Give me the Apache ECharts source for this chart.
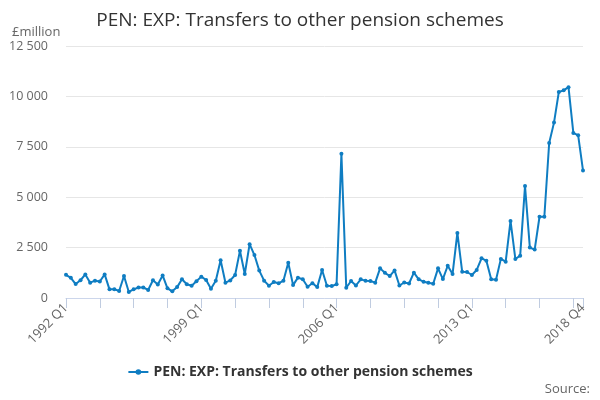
<!DOCTYPE html>
<html>
<head>
<meta charset="utf-8">
<script src="https://cdn.jsdelivr.net/npm/echarts@6/dist/echarts.min.js"></script>
<style>
html,body{margin:0;padding:0;background:#fff;}
#chart{width:600px;height:400px;}
</style>
</head>
<body>
<div id="chart"></div>
<script>
const years = [];
for (let y = 1992; y <= 2018; y++) years.push(y);
const quarters = ['Q1','Q2','Q3','Q4'];
const categories = [];
years.forEach(y => quarters.forEach(q => categories.push(y + ' ' + q)));

const seriesName = 'PEN: EXP: Transfers to other pension schemes';
const values = [
  1150, 1000, 690, 880,
  1170, 760, 860, 820,
  1170, 430, 440, 350,
  1090, 300, 430, 520,
  520, 400, 880, 670,
  1120, 480, 330, 540,
  930, 680, 610, 830,
  1060, 890, 460, 860,
  1870, 760, 870, 1140,
  2340, 1190, 2670, 2130,
  1360, 860, 610, 790,
  730, 860, 1750, 640,
  1010, 930, 560, 730,
  540, 1390, 610, 590,
  680, 7150, 510, 845,
  620, 925, 860, 845,
  760, 1470, 1250, 1090,
  1370, 620, 770, 720,
  1255, 925, 810, 760,
  710, 1470, 940, 1600,
  1190, 3230, 1300, 1290,
  1140, 1390, 1970, 1850,
  925, 910, 1940, 1800,
  3820, 1935, 2100, 5550,
  2500, 2400, 4030, 4030,
  7690, 8700, 10220, 10300,
  10460, 8190, 8070, 6330
];
const yTicks = [0, 2500, 5000, 7500, 10000, 12500];

const lastIdx = categories.length - 1;
const chart = echarts.init(document.getElementById('chart'), null, {renderer: 'canvas'});
chart.setOption({
  animation: false,
  backgroundColor: '#ffffff',
  title: {
    text: 'PEN: EXP: Transfers to other pension schemes',
    left: 'center',
    top: 6,
    textStyle: {fontFamily: 'Open Sans', fontSize: 19, fontWeight: 'normal', color: '#333333'}
  },
  graphic: [
    {type: 'text', left: 12, top: 26, style: {text: '£million', font: '13px "Open Sans"', fill: '#666666'}},
    {type: 'text', right: 10, top: 383, style: {text: 'Source:', font: '13px "Open Sans"', fill: '#666666'}}
  ],
  grid: {left: 66, right: 17, top: 46, bottom: 102, containLabel: false},
  legend: {
    show: true,
    bottom: 16,
    left: 'center',
    itemWidth: 20,
    itemHeight: 7,
    itemGap: 10,
    textStyle: {fontFamily: 'Open Sans', fontSize: 14, fontWeight: 'bold', color: '#333333'}
  },
  xAxis: {
    type: 'category',
    data: categories,
    boundaryGap: false,
    axisLine: {lineStyle: {color: '#ccd6eb'}},
    axisTick: {
      length: 10,
      lineStyle: {color: '#c0cce0'},
      interval: (i) => i % 7 === 0 || i === lastIdx
    },
    axisLabel: {
      rotate: 45,
      fontFamily: 'Open Sans',
      fontSize: 13,
      color: '#666666',
      margin: 8,
      hideOverlap: false,
      interval: (i) => i % 28 === 0 || i === lastIdx
    },
    splitLine: {show: false}
  },
  yAxis: {
    type: 'value',
    min: yTicks[0],
    max: yTicks[yTicks.length - 1],
    interval: 2500,
    axisLine: {show: false},
    axisTick: {show: false},
    axisLabel: {
      fontFamily: 'Open Sans',
      fontSize: 12.5,
      color: '#666666',
      margin: 18,
      formatter: (v) => String(v).replace(/\B(?=(\d{3})+(?!\d))/g, ' ')
    },
    splitLine: {lineStyle: {color: '#e6e6e6'}}
  },
  series: [{
    name: seriesName,
    type: 'line',
    data: values,
    symbol: 'circle',
    symbolSize: 4,
    showAllSymbol: true,
    lineStyle: {color: '#0f7dc2', width: 2},
    itemStyle: {color: '#0f7dc2'}
  }]
});
</script>
</body>
</html>
